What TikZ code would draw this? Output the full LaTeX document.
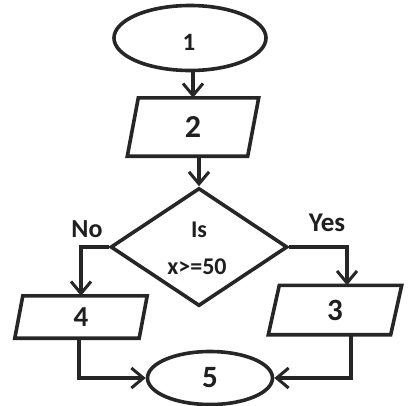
\documentclass[tikz,border=0pt]{standalone}
\usepackage{fontspec}
\setmainfont{Carlito}
\usetikzlibrary{shapes.geometric,arrows.meta,calc}
\tikzset{
  ln/.style={draw=black!85, line width=3.6pt},
  arr/.style={ln, -{Straight Barb[length=12pt,width=20pt,line width=3pt]}},
  lbl/.style={font=\bfseries\fontsize{#1}{#1}\selectfont, text=black!88},
  lbl/.default=24,
  term/.style={ln, ellipse, inner sep=0pt},
  box/.style={rectangle, inner sep=0pt},
  dec/.style={ln, diamond, inner sep=0pt, aspect=1.5},
}
\newcommand\paradraw[2]{%
  \draw[ln, line join=miter] ($(#1.south west)+(-#2,0)$) -- ($(#1.south east)+(-#2,0)$)
    -- ($(#1.north east)+(#2,0)$) -- ($(#1.north west)+(#2,0)$) -- cycle;}
\begin{document}
\begin{tikzpicture}[x=1pt,y=-1pt]
\useasboundingbox (0,0) rectangle (411,405);
\node[term, minimum width=152pt, minimum height=65pt] (e1) at (190,38) {};
\node[lbl=25] (t1) at (189,42) {1};
\node[box, lbl=32, minimum width=120pt, minimum height=58pt] (p2) at (193,127) {2};
\paradraw{p2}{5.5}
\node[dec, minimum width=177pt, minimum height=118pt] (d) at (199,247) {};
\node[lbl=24] (tis) at (199,230) {Is};
\node[lbl=24] (tx) at (197,267) {x>=50};
\node[box, lbl=29, minimum width=124pt, minimum height=42pt] (p4) at (81,317) {4};
\paradraw{p4}{4}
\node[box, lbl=31, minimum width=122pt, minimum height=49pt] (p3) at (335,310) {3};
\paradraw{p3}{5.5}
\node[term, lbl=31, minimum width=125pt, minimum height=53pt] (e5) at (210,378) {5};
\node[lbl=26] (no) at (87,229) {No};
\node[lbl=27] (yes) at (327,223) {Yes};
\draw[arr] (e1.south -| p2.north) -- (p2.north);
\draw[arr] (p2.south -| d.north) -- (d.north);
\draw[arr] (d.west) -| (p4.north);
\coordinate (p3in) at ([xshift=12pt]p3.north);
\draw[arr] (d.east) -| (p3in);
\draw[arr] ([xshift=-2pt]p4.south) |- (e5.west);
\coordinate (p3out) at ([xshift=16pt]p3.south);
\draw[arr] (p3out) |- (e5.east);
\end{tikzpicture}
\end{document}
